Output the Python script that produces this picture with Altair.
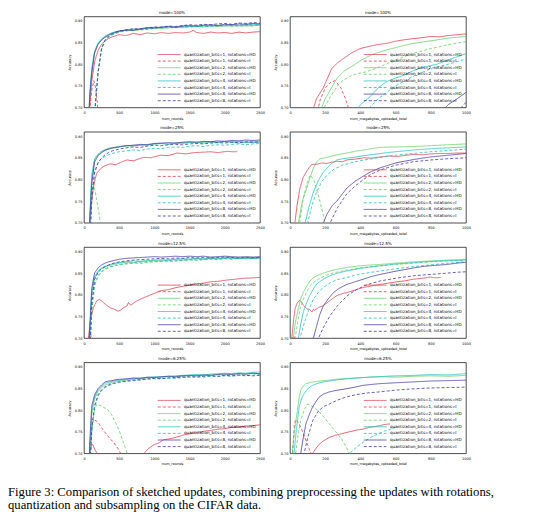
import altair as alt
import pandas as pd

SERIES = [
    "quantization_bits=1, rotations=HD",
    "quantization_bits=1, rotations=I",
    "quantization_bits=2, rotations=HD",
    "quantization_bits=2, rotations=I",
    "quantization_bits=4, rotations=HD",
    "quantization_bits=4, rotations=I",
    "quantization_bits=8, rotations=HD",
    "quantization_bits=8, rotations=I",
]
COLORS = ["#db3e4c", "#db3e4c", "#68cd69", "#68cd69", "#22bfbf", "#22bfbf", "#4637a0", "#4637a0"]
DASHES = [[1, 0], [3, 2], [1, 0], [3, 2], [1, 0], [3, 2], [1, 0], [3, 2]]

ROUND_TICKS = [0, 500, 1000, 1500, 2000, 2500]
MB_TICKS = [0, 200, 400, 600, 800, 1000]
ACC_TICKS = [0.70, 0.75, 0.80, 0.85, 0.90]

# shared rounds grid for the dense families
rounds_grid = [50, 80, 110, 150, 200, 250, 300, 350, 400, 450, 500, 600, 700, 800, 900, 1000,
               1100, 1200, 1300, 1400, 1500, 1600, 1700, 1800, 1900, 2000, 2100, 2200, 2300, 2400, 2500]

# ---------------- mode=100%, num_rounds ----------------
r100_q1hd_x = [50, 80, 110, 150, 200, 250, 300, 350, 400, 500, 600, 700, 800, 900, 1000, 1100, 1200, 1300,
               1400, 1500, 1550, 1600, 1700, 1800, 1900, 2000, 2100, 2200, 2300, 2400, 2500]
r100_q1hd_y = [0.60, 0.70, 0.76, 0.805, 0.832, 0.846, 0.854, 0.859, 0.863, 0.868, 0.866, 0.871, 0.868, 0.872,
               0.870, 0.873, 0.871, 0.873, 0.872, 0.874, 0.878, 0.873, 0.871, 0.874, 0.872, 0.873, 0.871, 0.874,
               0.872, 0.874, 0.875]
r100_q1i_x = [60, 85, 110, 140, 165, 190, 210]
r100_q1i_y = [0.60, 0.70, 0.74, 0.762, 0.745, 0.71, 0.66]
r100_q2hd_y = [0.60, 0.72, 0.78, 0.825, 0.847, 0.857, 0.863, 0.868, 0.871, 0.874, 0.876, 0.879, 0.877, 0.881,
               0.883, 0.884, 0.882, 0.885, 0.886, 0.884, 0.887, 0.888, 0.886, 0.889, 0.887, 0.889, 0.888, 0.890,
               0.888, 0.889, 0.890]
r100_q2i_y = [0.45, 0.52, 0.60, 0.68, 0.78, 0.835, 0.853, 0.862, 0.867, 0.871, 0.874, 0.877, 0.879, 0.878,
              0.881, 0.883, 0.884, 0.883, 0.885, 0.886, 0.885, 0.887, 0.886, 0.888, 0.887, 0.889, 0.888, 0.887,
              0.889, 0.888, 0.890]
r100_q4hd_y = [0.60, 0.73, 0.79, 0.83, 0.849, 0.858, 0.865, 0.869, 0.873, 0.875, 0.877, 0.878, 0.881, 0.880,
               0.883, 0.885, 0.884, 0.886, 0.885, 0.888, 0.887, 0.886, 0.889, 0.888, 0.890, 0.888, 0.891, 0.889,
               0.890, 0.892, 0.891]
r100_q4i_y = [0.45, 0.52, 0.60, 0.69, 0.785, 0.838, 0.855, 0.863, 0.868, 0.871, 0.874, 0.877, 0.879, 0.881,
              0.880, 0.883, 0.885, 0.886, 0.884, 0.887, 0.888, 0.887, 0.889, 0.888, 0.889, 0.891, 0.889, 0.890,
              0.892, 0.890, 0.891]
r100_q8hd_y = [0.60, 0.72, 0.78, 0.826, 0.846, 0.856, 0.862, 0.867, 0.871, 0.873, 0.876, 0.879, 0.878, 0.882,
               0.884, 0.883, 0.886, 0.887, 0.885, 0.888, 0.889, 0.888, 0.890, 0.891, 0.889, 0.892, 0.891, 0.893,
               0.892, 0.894, 0.893]
r100_q8i_y = [0.45, 0.52, 0.60, 0.685, 0.78, 0.836, 0.856, 0.865, 0.870, 0.874, 0.877, 0.879, 0.882, 0.881,
              0.884, 0.886, 0.885, 0.888, 0.887, 0.889, 0.891, 0.890, 0.892, 0.891, 0.893, 0.894, 0.892, 0.895,
              0.894, 0.896, 0.895]

# ---------------- mode=25%, num_rounds ----------------
r25_q1hd_x = [50, 86, 110, 133, 160, 180, 230, 276, 320, 370, 450, 513, 608, 700, 846, 950, 1084, 1200, 1321,
              1450, 1559, 1700, 1797, 1900, 2034, 2100, 2177]
r25_q1hd_y = [0.55, 0.70, 0.75, 0.782, 0.802, 0.814, 0.824, 0.830, 0.833, 0.836, 0.834, 0.839, 0.845, 0.843,
              0.851, 0.850, 0.856, 0.855, 0.861, 0.859, 0.862, 0.863, 0.864, 0.862, 0.865, 0.864, 0.864]
r25_q1i_x = [50, 100, 150]
r25_q1i_y = [0.55, 0.66, 0.60]
r25_q2hd_y = [0.55, 0.70, 0.80, 0.845, 0.857, 0.864, 0.869, 0.872, 0.873, 0.875, 0.876, 0.877, 0.879, 0.878,
              0.881, 0.882, 0.883, 0.882, 0.884, 0.885, 0.886, 0.884, 0.886, 0.887, 0.886, 0.888, 0.887, 0.888,
              0.886, 0.888, 0.887]
r25_q2i_x = [60, 85, 105, 125, 150, 180, 210, 235]
r25_q2i_y = [0.58, 0.70, 0.77, 0.79, 0.78, 0.752, 0.725, 0.695]
r25_q4hd_y = [0.55, 0.71, 0.81, 0.848, 0.858, 0.865, 0.868, 0.871, 0.874, 0.873, 0.876, 0.878, 0.877, 0.880,
              0.879, 0.882, 0.883, 0.881, 0.884, 0.883, 0.885, 0.886, 0.884, 0.886, 0.885, 0.887, 0.886, 0.884,
              0.886, 0.885, 0.886]
r25_q4i_y = [0.50, 0.65, 0.76, 0.82, 0.84, 0.848, 0.853, 0.857, 0.860, 0.862, 0.864, 0.866, 0.868, 0.867,
             0.870, 0.872, 0.871, 0.874, 0.875, 0.874, 0.877, 0.878, 0.876, 0.879, 0.880, 0.879, 0.881, 0.882,
             0.880, 0.882, 0.883]
r25_q8hd_y = [0.55, 0.70, 0.79, 0.84, 0.855, 0.862, 0.867, 0.870, 0.872, 0.874, 0.875, 0.878, 0.879, 0.881,
              0.880, 0.883, 0.884, 0.885, 0.884, 0.886, 0.887, 0.886, 0.888, 0.887, 0.889, 0.888, 0.890, 0.889,
              0.891, 0.890, 0.891]
r25_q8i_y = [0.50, 0.64, 0.75, 0.815, 0.838, 0.850, 0.857, 0.862, 0.866, 0.868, 0.870, 0.873, 0.875, 0.874,
             0.877, 0.879, 0.878, 0.880, 0.881, 0.880, 0.882, 0.883, 0.882, 0.884, 0.885, 0.884, 0.886, 0.885,
             0.887, 0.886, 0.887]

# ---------------- mode=12.5%, num_rounds ----------------
r12_q1hd_x = [50, 62, 90, 133, 181, 219, 250, 276, 320, 371, 442, 480, 513, 561, 609, 632, 660, 680, 750, 846,
              950, 1084, 1200, 1321, 1450, 1559, 1700, 1797, 1900, 2034, 2150, 2272, 2400, 2500]
r12_q1hd_y = [0.62, 0.70, 0.74, 0.770, 0.786, 0.789, 0.786, 0.782, 0.776, 0.770, 0.766, 0.762, 0.764, 0.770,
              0.774, 0.782, 0.776, 0.778, 0.786, 0.793, 0.800, 0.809, 0.812, 0.817, 0.821, 0.824, 0.827, 0.830,
              0.831, 0.834, 0.836, 0.838, 0.839, 0.840]
r12_q1i_x = [50, 70, 85, 100, 115]
r12_q1i_y = [0.64, 0.70, 0.715, 0.705, 0.68]
r12_q2hd_y = [0.55, 0.70, 0.80, 0.838, 0.852, 0.860, 0.864, 0.867, 0.869, 0.871, 0.873, 0.875, 0.874, 0.877,
              0.878, 0.879, 0.878, 0.880, 0.881, 0.880, 0.882, 0.883, 0.882, 0.884, 0.883, 0.885, 0.884, 0.883,
              0.885, 0.884, 0.885]
r12_q2i_y = [0.50, 0.64, 0.76, 0.82, 0.842, 0.852, 0.858, 0.862, 0.865, 0.867, 0.869, 0.871, 0.873, 0.872,
             0.875, 0.876, 0.877, 0.876, 0.878, 0.879, 0.880, 0.879, 0.881, 0.882, 0.881, 0.883, 0.882, 0.884,
             0.883, 0.884, 0.884]
r12_q4hd_y = [0.55, 0.71, 0.805, 0.842, 0.855, 0.862, 0.866, 0.868, 0.871, 0.873, 0.874, 0.876, 0.878, 0.877,
              0.879, 0.880, 0.881, 0.880, 0.882, 0.883, 0.882, 0.884, 0.883, 0.885, 0.884, 0.885, 0.886, 0.884,
              0.885, 0.886, 0.885]
r12_q4i_y = [0.50, 0.65, 0.77, 0.825, 0.845, 0.854, 0.860, 0.864, 0.866, 0.868, 0.870, 0.872, 0.874, 0.875,
             0.876, 0.877, 0.878, 0.879, 0.878, 0.880, 0.881, 0.882, 0.881, 0.883, 0.882, 0.884, 0.883, 0.885,
             0.884, 0.883, 0.884]
r12_q8hd_y = [0.56, 0.72, 0.815, 0.850, 0.862, 0.869, 0.873, 0.876, 0.878, 0.880, 0.882, 0.884, 0.885, 0.886,
              0.887, 0.888, 0.887, 0.888, 0.889, 0.888, 0.889, 0.888, 0.889, 0.887, 0.888, 0.889, 0.888, 0.887,
              0.888, 0.887, 0.888]
r12_q8i_y = [0.50, 0.66, 0.78, 0.835, 0.852, 0.860, 0.865, 0.869, 0.872, 0.874, 0.876, 0.878, 0.880, 0.881,
             0.882, 0.883, 0.884, 0.883, 0.885, 0.884, 0.886, 0.885, 0.886, 0.885, 0.886, 0.887, 0.886, 0.885,
             0.886, 0.885, 0.886]

# ---------------- mode=6.25%, num_rounds ----------------
r6_q1hd_x = [60, 85, 100, 113, 130, 150, 184, 220, 400, 700, 852, 920, 994, 1060, 1136, 1200, 1278, 1350, 1420,
             1500, 1600, 1700, 1800, 1900, 2000, 2100, 2200, 2300, 2400, 2500]
r6_q1hd_y = [0.64, 0.70, 0.715, 0.721, 0.719, 0.710, 0.70, 0.68, 0.60, 0.62, 0.70, 0.712, 0.72, 0.724, 0.732,
             0.733, 0.736, 0.739, 0.743, 0.745, 0.748, 0.751, 0.753, 0.756, 0.757, 0.760, 0.761, 0.763, 0.764,
             0.766]
r6_q1i_x = [60, 90, 120, 142, 200, 284, 350, 426, 480, 521, 550]
r6_q1i_y = [0.62, 0.72, 0.77, 0.778, 0.772, 0.751, 0.738, 0.724, 0.712, 0.70, 0.68]
r6_q2hd_y = [0.55, 0.70, 0.79, 0.825, 0.843, 0.852, 0.858, 0.861, 0.864, 0.866, 0.867, 0.869, 0.871, 0.872,
             0.874, 0.875, 0.876, 0.877, 0.876, 0.878, 0.879, 0.880, 0.879, 0.881, 0.882, 0.881, 0.883, 0.884,
             0.883, 0.885, 0.884]
r6_q2i_x = [60, 90, 120, 150, 180, 230, 280, 331, 400, 473, 510, 544, 580, 615, 640]
r6_q2i_y = [0.60, 0.70, 0.77, 0.80, 0.813, 0.811, 0.806, 0.802, 0.787, 0.763, 0.748, 0.732, 0.716, 0.70, 0.68]
r6_q4hd_y = [0.55, 0.71, 0.80, 0.83, 0.847, 0.855, 0.862, 0.864, 0.866, 0.868, 0.869, 0.871, 0.873, 0.874,
             0.875, 0.877, 0.876, 0.878, 0.879, 0.880, 0.881, 0.882, 0.881, 0.883, 0.884, 0.885, 0.884, 0.886,
             0.885, 0.887, 0.888]
r6_q4i_y = [0.50, 0.64, 0.75, 0.805, 0.832, 0.845, 0.852, 0.856, 0.859, 0.862, 0.864, 0.866, 0.868, 0.869,
            0.871, 0.872, 0.873, 0.874, 0.873, 0.875, 0.876, 0.877, 0.876, 0.878, 0.877, 0.879, 0.878, 0.880,
            0.879, 0.881, 0.882]
r6_q8hd_y = [0.55, 0.72, 0.81, 0.835, 0.850, 0.858, 0.865, 0.867, 0.868, 0.870, 0.871, 0.872, 0.874, 0.873,
             0.876, 0.875, 0.877, 0.878, 0.877, 0.879, 0.880, 0.879, 0.881, 0.880, 0.882, 0.883, 0.882, 0.884,
             0.883, 0.885, 0.884]
r6_q8i_y = [0.50, 0.65, 0.76, 0.81, 0.835, 0.847, 0.854, 0.858, 0.861, 0.863, 0.865, 0.867, 0.869, 0.870,
            0.872, 0.873, 0.872, 0.874, 0.875, 0.876, 0.877, 0.876, 0.878, 0.879, 0.878, 0.880, 0.879, 0.881,
            0.880, 0.879, 0.880]

# ---------------- mode=100%, num_megabytes_uploaded_total ----------------
m100_q1hd_x = [120, 150, 190, 237, 270, 304, 350, 398, 450, 493, 550, 600, 645, 700, 750, 797, 850, 900, 950, 1000]
m100_q1hd_y = [0.68, 0.72, 0.746, 0.79, 0.803, 0.813, 0.826, 0.836, 0.841, 0.845, 0.848, 0.853, 0.856, 0.859,
               0.861, 0.864, 0.863, 0.866, 0.868, 0.870]
m100_q1i_x = [150, 171, 200, 230, 256, 290, 315, 340]
m100_q1i_y = [0.68, 0.717, 0.745, 0.758, 0.762, 0.745, 0.72, 0.69]
m100_q2hd_x = [170, 200, 266, 310, 360, 400, 455, 500, 550, 645, 700, 750, 835, 900, 1000]
m100_q2hd_y = [0.69, 0.72, 0.767, 0.785, 0.797, 0.808, 0.820, 0.827, 0.833, 0.843, 0.848, 0.851, 0.856, 0.860, 0.864]
m100_q2i_x = [180, 230, 270, 300, 340, 380, 430, 500, 600, 700, 800, 900, 1000]
m100_q2i_y = [0.69, 0.725, 0.75, 0.762, 0.772, 0.778, 0.782, 0.792, 0.81, 0.825, 0.836, 0.845, 0.852]
m100_q4hd_x = [370, 400, 455, 500, 550, 600, 645, 700, 750, 835, 900, 1000]
m100_q4hd_y = [0.69, 0.706, 0.725, 0.745, 0.760, 0.768, 0.774, 0.785, 0.792, 0.80, 0.81, 0.824]
m100_q4i_x = [430, 500, 600, 700, 800, 900, 1000]
m100_q4i_y = [0.69, 0.72, 0.75, 0.772, 0.79, 0.80, 0.812]
m100_q8hd_x = [860, 900, 950, 1000]
m100_q8hd_y = [0.69, 0.707, 0.72, 0.735]
m100_q8i_x = [950, 1000]
m100_q8i_y = [0.69, 0.712]

# ---------------- mode=25%, num_megabytes_uploaded_total ----------------
m25_q1hd_x = [20, 28, 40, 57, 75, 95, 110, 124, 152, 180, 209, 240, 266, 300, 323, 370, 418, 460, 513, 560,
              610, 660, 703, 750, 800, 850, 894, 950, 1000]
m25_q1hd_y = [0.64, 0.70, 0.74, 0.781, 0.805, 0.819, 0.828, 0.835, 0.835, 0.838, 0.837, 0.840, 0.842, 0.841,
              0.845, 0.847, 0.850, 0.849, 0.852, 0.854, 0.853, 0.856, 0.858, 0.857, 0.859, 0.860, 0.860, 0.861,
              0.861]
m25_q1i_x = [20, 40, 60]
m25_q1i_y = [0.60, 0.66, 0.62]
m25_q2hd_x = [35, 48, 70, 95, 115, 133, 150, 171, 200, 228, 270, 323, 370, 418, 460, 513, 600, 703, 800, 894,
              950, 1000]
m25_q2hd_y = [0.64, 0.70, 0.75, 0.78, 0.806, 0.826, 0.84, 0.848, 0.850, 0.853, 0.857, 0.861, 0.865, 0.868,
              0.871, 0.874, 0.875, 0.876, 0.878, 0.880, 0.881, 0.882]
m25_q2i_x = [40, 55, 75, 95, 115, 135, 160, 185, 205]
m25_q2i_y = [0.62, 0.70, 0.755, 0.79, 0.81, 0.80, 0.765, 0.725, 0.69]
m25_q4hd_x = [70, 86, 110, 133, 160, 190, 230, 266, 300, 361, 420, 513, 600, 703, 800, 900, 1000]
m25_q4hd_y = [0.64, 0.70, 0.74, 0.771, 0.797, 0.817, 0.835, 0.845, 0.848, 0.851, 0.855, 0.860, 0.864, 0.868,
              0.871, 0.873, 0.875]
m25_q4i_x = [80, 100, 125, 150, 180, 210, 250, 300, 361, 420, 513, 600, 703, 800, 900, 1000]
m25_q4i_y = [0.64, 0.70, 0.74, 0.77, 0.795, 0.81, 0.824, 0.833, 0.840, 0.845, 0.851, 0.856, 0.860, 0.864,
             0.867, 0.870]
m25_q8hd_x = [180, 190, 209, 240, 266, 300, 323, 370, 418, 460, 513, 560, 608, 650, 703, 750, 798, 850, 900,
              950, 1000]
m25_q8hd_y = [0.68, 0.70, 0.719, 0.74, 0.75, 0.768, 0.78, 0.796, 0.808, 0.818, 0.827, 0.833, 0.839, 0.842,
              0.846, 0.849, 0.852, 0.854, 0.856, 0.858, 0.860]
m25_q8i_x = [215, 228, 270, 323, 370, 418, 460, 513, 600, 703, 800, 900, 1000]
m25_q8i_y = [0.68, 0.70, 0.735, 0.767, 0.785, 0.80, 0.812, 0.822, 0.833, 0.841, 0.845, 0.848, 0.850]

# ---------------- mode=12.5%, num_megabytes_uploaded_total ----------------
m12_q1hd_x = [5, 10, 20, 29, 40, 48, 57, 66, 76, 95, 114, 125, 132, 140, 160, 190, 228, 266, 300, 323, 370,
              418, 460, 513, 560, 608, 650, 703, 750, 798, 830, 856]
m12_q1hd_y = [0.64, 0.70, 0.74, 0.768, 0.780, 0.785, 0.787, 0.782, 0.776, 0.768, 0.765, 0.760, 0.766, 0.764,
              0.770, 0.775, 0.787, 0.798, 0.803, 0.805, 0.811, 0.817, 0.820, 0.824, 0.827, 0.830, 0.832, 0.836,
              0.838, 0.841, 0.839, 0.840]
m12_q1i_x = [5, 15, 25, 35]
m12_q1i_y = [0.64, 0.70, 0.705, 0.68]
m12_q2hd_x = [10, 19, 30, 48, 60, 76, 95, 114, 133, 152, 190, 228, 270, 323, 380, 430, 513, 600, 703, 800,
              894, 950, 1000]
m12_q2hd_y = [0.64, 0.70, 0.735, 0.769, 0.79, 0.806, 0.82, 0.832, 0.839, 0.844, 0.850, 0.855, 0.859, 0.863,
              0.866, 0.868, 0.870, 0.873, 0.876, 0.878, 0.880, 0.881, 0.882]
m12_q2i_x = [20, 29, 45, 57, 76, 95, 114, 140, 170, 200, 250, 323, 400, 513, 600, 703, 800, 900, 1000]
m12_q2i_y = [0.64, 0.70, 0.74, 0.768, 0.79, 0.807, 0.82, 0.83, 0.838, 0.844, 0.851, 0.857, 0.862, 0.867,
             0.870, 0.873, 0.876, 0.878, 0.880]
m12_q4hd_x = [40, 48, 60, 76, 95, 114, 133, 152, 190, 228, 270, 323, 400, 513, 600, 703, 800, 900, 1000]
m12_q4hd_y = [0.65, 0.70, 0.73, 0.761, 0.782, 0.80, 0.814, 0.825, 0.836, 0.844, 0.85, 0.855, 0.861, 0.867,
              0.871, 0.874, 0.877, 0.879, 0.880]
m12_q4i_x = [50, 57, 76, 95, 114, 133, 160, 190, 230, 270, 323, 400, 513, 600, 703, 800, 900, 1000]
m12_q4i_y = [0.66, 0.70, 0.728, 0.752, 0.772, 0.79, 0.805, 0.817, 0.828, 0.835, 0.840, 0.848, 0.855, 0.860,
             0.865, 0.869, 0.873, 0.876]
m12_q8hd_x = [125, 133, 152, 170, 190, 220, 247, 280, 323, 370, 418, 460, 513, 560, 608, 650, 703, 750, 800,
              894, 950, 1000]
m12_q8hd_y = [0.68, 0.70, 0.729, 0.755, 0.775, 0.792, 0.805, 0.815, 0.824, 0.830, 0.836, 0.842, 0.847, 0.851,
              0.855, 0.858, 0.862, 0.865, 0.867, 0.870, 0.873, 0.875]
m12_q8i_x = [150, 162, 190, 228, 270, 323, 370, 418, 460, 513, 600, 703, 800, 894, 950, 1000]
m12_q8i_y = [0.68, 0.70, 0.725, 0.752, 0.775, 0.797, 0.81, 0.82, 0.826, 0.832, 0.838, 0.844, 0.847, 0.850,
             0.852, 0.853]

# ---------------- mode=6.25%, num_megabytes_uploaded_total ----------------
m6_q1hd_x = [115, 128, 150, 166, 190, 224, 260, 290, 319, 350, 380, 415, 450, 480, 510, 540, 568]
m6_q1hd_y = [0.68, 0.70, 0.713, 0.721, 0.729, 0.737, 0.742, 0.745, 0.748, 0.751, 0.754, 0.756, 0.760, 0.762,
             0.764, 0.767, 0.768]
m6_q1i_x = [5, 15, 25, 31, 50, 70, 90, 110, 130]
m6_q1i_y = [0.62, 0.70, 0.765, 0.778, 0.770, 0.752, 0.73, 0.71, 0.69]
m6_q2hd_x = [8, 13, 25, 42, 52, 61, 75, 90, 120, 166, 220, 260, 319, 380, 450, 511, 600, 700, 800, 900, 1000]
m6_q2hd_y = [0.64, 0.70, 0.75, 0.799, 0.828, 0.846, 0.855, 0.861, 0.864, 0.867, 0.869, 0.871, 0.873, 0.874,
             0.876, 0.877, 0.876, 0.878, 0.879, 0.878, 0.880]
m6_q2i_x = [20, 32, 45, 60, 80, 100, 130, 160, 190, 224, 260, 290, 319, 350]
m6_q2i_y = [0.62, 0.70, 0.74, 0.775, 0.80, 0.814, 0.808, 0.798, 0.785, 0.768, 0.75, 0.735, 0.715, 0.69]
m6_q4hd_x = [15, 23, 35, 52, 65, 80, 100, 128, 160, 190, 224, 270, 320, 415, 500, 600, 702, 800, 900, 1000]
m6_q4hd_y = [0.64, 0.70, 0.75, 0.807, 0.826, 0.838, 0.849, 0.857, 0.862, 0.865, 0.867, 0.870, 0.872, 0.875,
             0.877, 0.879, 0.880, 0.882, 0.881, 0.884]
m6_q4i_x = [320, 340, 380, 420, 460, 500, 540, 570, 600]
m6_q4i_y = [0.68, 0.70, 0.715, 0.727, 0.737, 0.745, 0.752, 0.756, 0.76]
m6_q8hd_x = [50, 61, 75, 90, 110, 128, 150, 166, 190, 224, 270, 319, 370, 415, 460, 511, 600, 702, 800, 900, 1000]
m6_q8hd_y = [0.66, 0.70, 0.735, 0.768, 0.79, 0.807, 0.821, 0.83, 0.837, 0.842, 0.846, 0.849, 0.853, 0.857,
             0.859, 0.861, 0.863, 0.865, 0.867, 0.868, 0.869]
m6_q8i_x = [65, 80, 100, 128, 160, 190, 224, 270, 319, 380, 450, 511, 600, 702, 800, 900, 1000]
m6_q8i_y = [0.66, 0.70, 0.735, 0.775, 0.797, 0.808, 0.814, 0.823, 0.830, 0.836, 0.840, 0.842, 0.846, 0.849,
            0.851, 0.852, 0.853]

G = rounds_grid
PANELS = [
    ("mode=100%", "num_rounds", 2500, ROUND_TICKS,
     [(r100_q1hd_x, r100_q1hd_y), (r100_q1i_x, r100_q1i_y), (G, r100_q2hd_y), (G, r100_q2i_y),
      (G, r100_q4hd_y), (G, r100_q4i_y), (G, r100_q8hd_y), (G, r100_q8i_y)]),
    ("mode=100%", "num_megabytes_uploaded_total", 1000, MB_TICKS,
     [(m100_q1hd_x, m100_q1hd_y), (m100_q1i_x, m100_q1i_y), (m100_q2hd_x, m100_q2hd_y), (m100_q2i_x, m100_q2i_y),
      (m100_q4hd_x, m100_q4hd_y), (m100_q4i_x, m100_q4i_y), (m100_q8hd_x, m100_q8hd_y), (m100_q8i_x, m100_q8i_y)]),
    ("mode=25%", "num_rounds", 2500, ROUND_TICKS,
     [(r25_q1hd_x, r25_q1hd_y), (r25_q1i_x, r25_q1i_y), (G, r25_q2hd_y), (r25_q2i_x, r25_q2i_y),
      (G, r25_q4hd_y), (G, r25_q4i_y), (G, r25_q8hd_y), (G, r25_q8i_y)]),
    ("mode=25%", "num_megabytes_uploaded_total", 1000, MB_TICKS,
     [(m25_q1hd_x, m25_q1hd_y), (m25_q1i_x, m25_q1i_y), (m25_q2hd_x, m25_q2hd_y), (m25_q2i_x, m25_q2i_y),
      (m25_q4hd_x, m25_q4hd_y), (m25_q4i_x, m25_q4i_y), (m25_q8hd_x, m25_q8hd_y), (m25_q8i_x, m25_q8i_y)]),
    ("mode=12.5%", "num_rounds", 2500, ROUND_TICKS,
     [(r12_q1hd_x, r12_q1hd_y), (r12_q1i_x, r12_q1i_y), (G, r12_q2hd_y), (G, r12_q2i_y),
      (G, r12_q4hd_y), (G, r12_q4i_y), (G, r12_q8hd_y), (G, r12_q8i_y)]),
    ("mode=12.5%", "num_megabytes_uploaded_total", 1000, MB_TICKS,
     [(m12_q1hd_x, m12_q1hd_y), (m12_q1i_x, m12_q1i_y), (m12_q2hd_x, m12_q2hd_y), (m12_q2i_x, m12_q2i_y),
      (m12_q4hd_x, m12_q4hd_y), (m12_q4i_x, m12_q4i_y), (m12_q8hd_x, m12_q8hd_y), (m12_q8i_x, m12_q8i_y)]),
    ("mode=6.25%", "num_rounds", 2500, ROUND_TICKS,
     [(r6_q1hd_x, r6_q1hd_y), (r6_q1i_x, r6_q1i_y), (G, r6_q2hd_y), (r6_q2i_x, r6_q2i_y),
      (G, r6_q4hd_y), (G, r6_q4i_y), (G, r6_q8hd_y), (G, r6_q8i_y)]),
    ("mode=6.25%", "num_megabytes_uploaded_total", 1000, MB_TICKS,
     [(m6_q1hd_x, m6_q1hd_y), (m6_q1i_x, m6_q1i_y), (m6_q2hd_x, m6_q2hd_y), (m6_q2i_x, m6_q2i_y),
      (m6_q4hd_x, m6_q4hd_y), (m6_q4i_x, m6_q4i_y), (m6_q8hd_x, m6_q8hd_y), (m6_q8i_x, m6_q8i_y)]),
]

CAPTION = [
    "Figure 3:  Comparison of sketched updates, combining preprocessing the updates with rotations,",
    "quantization and subsampling on the CIFAR data.",
]

FONT = "DejaVu Sans"


def legend():
    return alt.Legend(
        title=None, orient="bottom-right", offset=4, padding=0,
        labelFont=FONT, labelFontSize=4.1, labelColor="black", labelLimit=300,
        symbolType="M-1,0H9.2", symbolSize=20, symbolStrokeWidth=0.8,
        labelOffset=21, rowPadding=0.6,
    )


charts = []
for title, xtitle, xmax, xticks, series_data in PANELS:
    rows = []
    for name, (xs, ys) in zip(SERIES, series_data):
        for xv, yv in zip(xs, ys):
            rows.append({"x": xv, "y": yv, "series": name})
    df = pd.DataFrame(rows)
    ch = alt.Chart(df).mark_line(clip=True, strokeWidth=0.8).encode(
        x=alt.X("x:Q", scale=alt.Scale(domain=[0, xmax], nice=False),
                axis=alt.Axis(values=xticks, format="d", title=xtitle)),
        y=alt.Y("y:Q", scale=alt.Scale(domain=[0.70, 0.91], nice=False, zero=False),
                axis=alt.Axis(values=ACC_TICKS, format=".2f", title="Accuracy")),
        color=alt.Color("series:N", scale=alt.Scale(domain=SERIES, range=COLORS), legend=legend()),
        strokeDash=alt.StrokeDash("series:N", scale=alt.Scale(domain=SERIES, range=DASHES), legend=legend()),
    ).properties(
        width=176, height=91,
        title=alt.TitleParams(text=title, font=FONT, fontSize=4, fontWeight="normal", color="black", offset=1.5),
    )
    charts.append(ch)

chart = alt.concat(
    *charts, columns=2, spacing={"row": 24.3, "column": 30}, bounds="flush"
).resolve_scale(
    color="independent", strokeDash="independent"
).properties(
    title=alt.TitleParams(
        text=CAPTION, orient="bottom", anchor="start", frame="group", dx=-76, offset=20.5,
        font="Liberation Serif", fontSize=12.7, fontWeight="normal", lineHeight=13.2, color="black",
    ),
    padding={"left": 0, "top": 2.5, "right": 5, "bottom": 2},
).configure_view(
    stroke="black", strokeWidth=0.7
).configure_axis(
    labelFont=FONT, labelFontSize=3.5, labelColor="black", titleFont=FONT, titleFontSize=3.5,
    titleFontWeight="normal", titleColor="black", ticks=False, domain=False, grid=False,
    labelFlush=False, labelOverlap=False,
).configure_axisX(
    labelPadding=3, titlePadding=2
).configure_axisY(
    labelPadding=2, titlePadding=3
)

chart.save("out.html", embed_options={"renderer": "svg", "actions": False})
